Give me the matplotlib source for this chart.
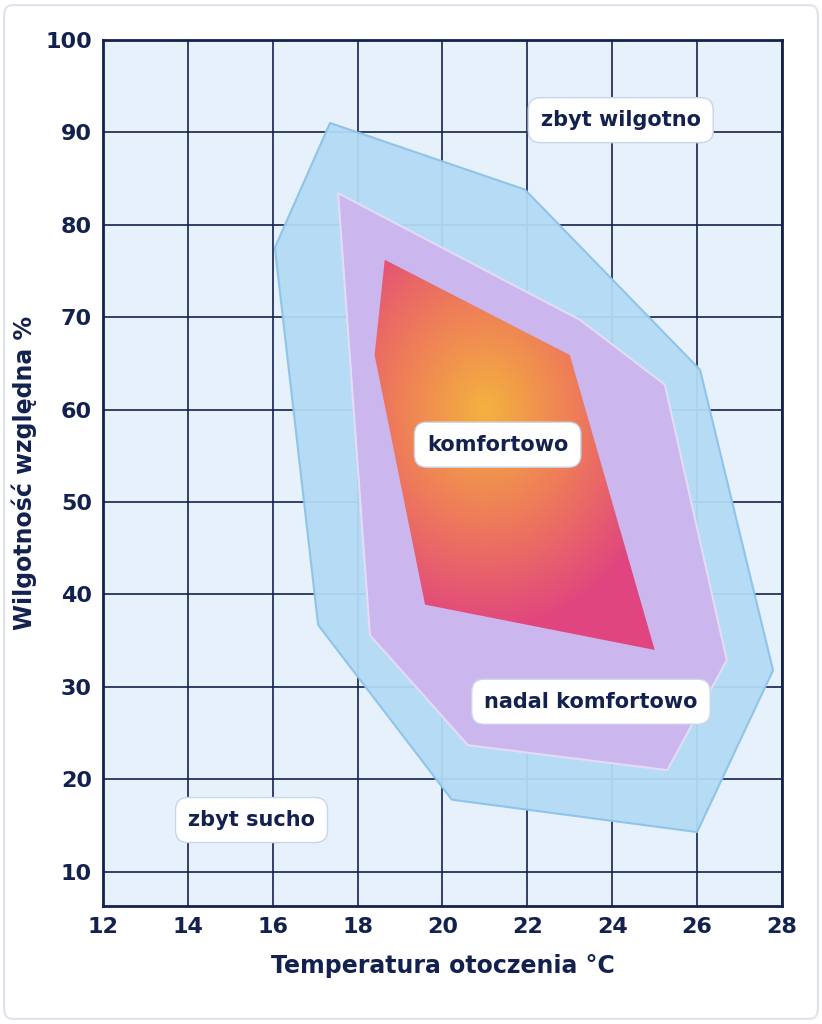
import numpy as np
import matplotlib.pyplot as plt
from matplotlib.patches import Polygon, FancyBboxPatch
from matplotlib.colors import LinearSegmentedColormap

# Strefy komfortu (temperatura, wilgotnosc)
strefa_zewn_t = [16.05, 17.35, 21.94, 26.07, 27.79, 26.0, 20.22, 17.07]
strefa_zewn_w = [77.5, 91.0, 83.8, 64.3, 31.8, 14.3, 17.8, 36.7]

strefa_sr_t = [17.54, 23.24, 25.24, 26.7, 25.3, 20.6, 18.29]
strefa_sr_w = [83.4, 69.7, 62.7, 32.9, 21.0, 23.7, 35.6]

strefa_wewn_t = [18.64, 23.0, 25.0, 19.59, 18.4]
strefa_wewn_w = [76.2, 65.9, 34.0, 38.9, 65.9]

# Podpisy stref
etykiety = ["zbyt wilgotno", "komfortowo", "nadal komfortowo", "zbyt sucho"]
etykiety_t = [24.2, 21.3, 23.5, 15.5]
etykiety_w = [91.3, 56.2, 28.4, 15.6]

granat = "#13214f"
plt.rcParams["font.family"] = "DejaVu Sans"
plt.rcParams["font.weight"] = "bold"

# Rysunek
fig = plt.figure(figsize=(8.22, 10.24), dpi=100)
fig.patch.set_facecolor("white")
ax = fig.add_axes([0.1253, 0.1152, 0.826, 0.846])
ax.set_facecolor("#e6f1fb")
ax.set_xlim(12, 28)
ax.set_ylim(6.3, 100)

ax.set_xticks(range(12, 29, 2))
ax.set_yticks(range(10, 101, 10))
ax.grid(True, color=granat, linewidth=1.2)
ax.set_axisbelow(True)
for s in ax.spines.values():
    s.set_color(granat)
    s.set_linewidth(2)
ax.tick_params(colors=granat, labelsize=16, length=0, pad=8)

# Strefa zewnetrzna
p1 = Polygon(list(zip(strefa_zewn_t, strefa_zewn_w)), closed=True,
             facecolor="#b3daf5", edgecolor="#8cc3ea", linewidth=1.5,
             joinstyle="round", alpha=0.95, zorder=2)
ax.add_patch(p1)

# Strefa srodkowa
p2 = Polygon(list(zip(strefa_sr_t, strefa_sr_w)), closed=True,
             facecolor="#cbb6ee", edgecolor="#e4dcf7", linewidth=1.5,
             joinstyle="round", zorder=3)
ax.add_patch(p2)

# Strefa wewnetrzna z gradientem
p3 = Polygon(list(zip(strefa_wewn_t, strefa_wewn_w)), closed=True,
             facecolor="none", edgecolor="none", zorder=5)
ax.add_patch(p3)
gx, gy = np.meshgrid(np.linspace(18, 25.5, 300), np.linspace(33, 77, 300))
r = np.sqrt(((gx - 21.0) / 4.0) ** 2 + ((gy - 60.0) / 22.0) ** 2)
cmap = LinearSegmentedColormap.from_list("komfort", ["#f4b23f", "#ee7b5a", "#e0457f"])
img = ax.imshow(r, extent=[18, 25.5, 33, 77], origin="lower", cmap=cmap,
                vmin=0, vmax=1.1, aspect="auto", zorder=4)
img.set_clip_path(p3)

# Podpisy
for tekst, t, w in zip(etykiety, etykiety_t, etykiety_w):
    ax.text(t, w, tekst, ha="center", va="center", fontsize=15, color=granat,
            fontweight="bold", zorder=6,
            bbox=dict(boxstyle="round,pad=0.6", facecolor="white",
                      edgecolor="#c8d6ea", linewidth=1))

ax.set_xlabel("Temperatura otoczenia °C", fontsize=17, color=granat,
              fontweight="bold", labelpad=12)
ax.set_ylabel("Wilgotność względna %", fontsize=17, color=granat,
              fontweight="bold", labelpad=6)

# Ramka karty
fig.patches.append(FancyBboxPatch((0.005, 0.005), 0.99, 0.99,
                                  boxstyle="round,pad=0,rounding_size=0.01",
                                  transform=fig.transFigure, facecolor="none",
                                  edgecolor="#dde3ea", linewidth=1.5))

fig.savefig("out.png", dpi=100)
